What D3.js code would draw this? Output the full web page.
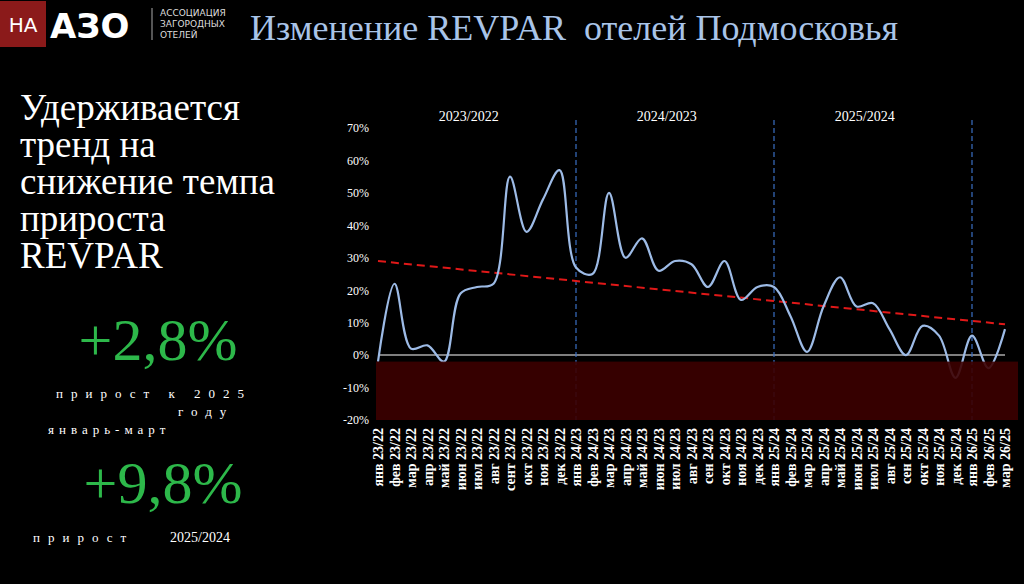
<!DOCTYPE html>
<html><head><meta charset="utf-8">
<script src="https://cdn.jsdelivr.net/npm/d3@7"></script>
<style>body{margin:0;background:#000}svg{display:block}text{font-family:"Liberation Serif",serif}</style>
</head><body><svg id="c" width="1024" height="584"></svg>
<script>
var months = ["янв 23/22","фев 23/22","мар 23/22","апр 23/22","май 23/22","июн 23/22","июл 23/22","авг 23/22","сент 23/22","окт 23/22","ноя 23/22","дек 23/22",
  "янв 24/23","фев 24/23","мар 24/23","апр 24/23","май 24/23","июн 24/23","июл 24/23","авг 24/23","сен 24/23","окт 24/23","ноя 24/23","дек 24/23",
  "янв 25/24","фев 25/24","мар 25/24","апр 25/24","май 25/24","июн 25/24","июл 25/24","авг 25/24","сен 25/24","окт 25/24","ноя 25/24","дек 25/24",
  "янв 26/25","фев 26/25","мар 26/25"];
var revpar = [-2,22,2,3,-2,19,21,22,55,38,48,57,27,25,50,30,36,26,29,28,21,29,17,21,21,12,1,15,24,15,16,8,0,9,6,-7,6,-4,8];
var trend = [29,9.5];
var yTicks = [70,60,50,40,30,20,10,0,-10,-20];
var periods = [{label:"2023/2022",from:0,to:11},{label:"2024/2023",from:12,to:23},{label:"2025/2024",from:24,to:35}];
var dividers = [12,24,36];

var svg = d3.select("#c");
var x = d3.scalePoint().domain(d3.range(months.length)).range([378,1005]);
var y = d3.scaleLinear().domain([-20,70]).range([420,128]);

// header
svg.append("rect").attr("x",0).attr("y",1).attr("width",46).attr("height",46).attr("fill","#8b1a1a");
svg.append("text").attr("x",23).attr("y",32).attr("text-anchor","middle").attr("fill","#fff").style("font-family","DejaVu Sans").attr("font-size",20).text("НА");
svg.append("text").attr("x",50).attr("y",38).attr("fill","#fff").style("font-family","DejaVu Sans").attr("font-weight","bold").attr("font-size",34).text("АЗО");
svg.append("line").attr("x1",152).attr("x2",152).attr("y1",8).attr("y2",40).attr("stroke","#aaa");
["АССОЦИАЦИЯ","ЗАГОРОДНЫХ","ОТЕЛЕЙ"].forEach(function(t,i){
  svg.append("text").attr("x",160).attr("y",16+i*11).attr("fill","#ddd").style("font-family","DejaVu Sans").attr("font-size",9).text(t);
});
svg.append("text").attr("x",250).attr("y",40).attr("fill","#a9c4e8").attr("font-size",36).attr("xml:space","preserve").style("white-space","pre").text("Изменение REVPAR  отелей Подмосковья");

// left text
["Удерживается","тренд на","снижение темпа","прироста","REVPAR"].forEach(function(t,i){
  svg.append("text").attr("x",20).attr("y",120+i*37).attr("fill","#fff").attr("font-size",37).text(t);
});
svg.append("text").attr("x",158).attr("y",360).attr("text-anchor","middle").attr("fill","#2db84a").attr("font-size",60).text("+2,8%");
svg.append("text").attr("x",56).attr("y",398).attr("fill","#fff").attr("font-size",13).attr("letter-spacing",8).text("прирост к 2025");
svg.append("text").attr("x",178).attr("y",416).attr("fill","#fff").attr("font-size",13).attr("letter-spacing",8).text("году");
svg.append("text").attr("x",48).attr("y",434).attr("fill","#fff").attr("font-size",13).attr("letter-spacing",5).text("январь-март");
svg.append("text").attr("x",163).attr("y",503).attr("text-anchor","middle").attr("fill","#2db84a").attr("font-size",60).text("+9,8%");
svg.append("text").attr("x",33).attr("y",542).attr("fill","#fff").attr("font-size",13).attr("letter-spacing",8).text("прирост");
svg.append("text").attr("x",170).attr("y",542).attr("fill","#fff").attr("font-size",14).text("2025/2024");

// y axis
var yAxis = svg.append("g").attr("transform","translate(372,0)")
  .call(d3.axisLeft(y).tickValues(yTicks).tickSize(0).tickFormat(function(d){return d+"%";}));
yAxis.select(".domain").remove();
yAxis.selectAll("text").attr("fill","#fff").attr("font-size",12).style("font-family","Liberation Serif");

// zero line
svg.append("line").attr("x1",378).attr("x2",1005).attr("y1",y(0)).attr("y2",y(0)).attr("stroke","#aaa").attr("stroke-width",1.5);

// dividers
dividers.forEach(function(i){
  svg.append("line").attr("x1",x(i)).attr("x2",x(i)).attr("y1",120).attr("y2",420)
    .attr("stroke","#3a6fc4").attr("stroke-width",1.2).attr("stroke-dasharray","5,3");
});
periods.forEach(function(p){
  svg.append("text").attr("x",(x(p.from)+x(p.to))/2).attr("y",121).attr("text-anchor","middle").attr("fill","#fff").attr("font-size",14).text(p.label);
});

// trend
svg.append("line").attr("x1",x(0)).attr("x2",x(months.length-1)).attr("y1",y(trend[0])).attr("y2",y(trend[1]))
  .attr("stroke","#e01818").attr("stroke-width",2).attr("stroke-dasharray","8,5");

// series
var line = d3.line().x(function(d,i){return x(i);}).y(function(d){return y(d);}).curve(d3.curveCatmullRom.alpha(0.5));
svg.append("path").datum(revpar).attr("d",line).attr("fill","none").attr("stroke","#9dbbe6").attr("stroke-width",2.2);

// negative band
svg.append("rect").attr("x",376).attr("y",y(-2)).attr("width",642).attr("height",y(-20)-y(-2)).attr("fill","#3c0000").attr("opacity",0.9);

// x labels
var xAxis = svg.append("g").attr("transform","translate(0,424)")
  .call(d3.axisBottom(x).tickSize(0).tickFormat(function(i){return months[i];}));
xAxis.select(".domain").remove();
xAxis.selectAll("text").attr("fill","#fff").attr("font-size",14).attr("font-weight","bold").style("font-family","Liberation Serif")
  .attr("transform","rotate(-90)").attr("text-anchor","end").attr("dy","0.35em").attr("y",0).attr("x",-4);
</script></body></html>
